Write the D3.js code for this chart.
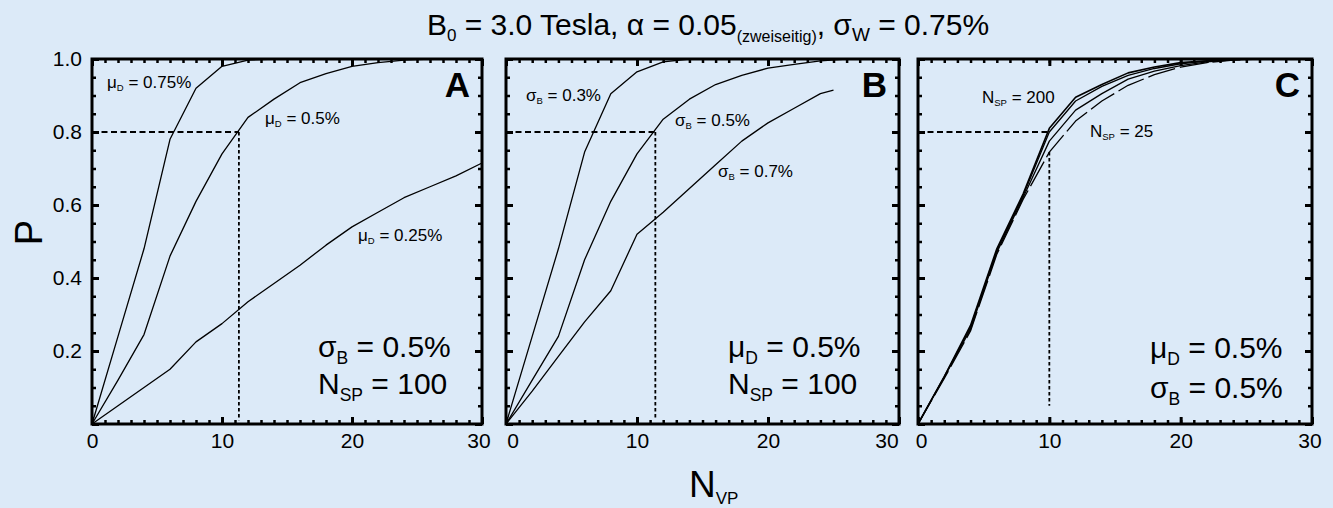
<!DOCTYPE html>
<html>
<head>
<meta charset="utf-8">
<script src="https://cdn.jsdelivr.net/npm/d3@7"></script>
<style>
  html, body { margin: 0; padding: 0; background: #dceaf8; }
  svg { display: block; }
  text { font-family: "Liberation Sans", Arial, sans-serif; fill: #000; }
</style>
</head>
<body>
<svg id="chart" width="1333" height="508"></svg>
<script>
// N_VP sample points of the simulated power curves
const nvpSteps   = [0, 2, 4, 6, 8, 10, 12, 14, 16, 18, 20, 22, 24, 26, 28, 30];
const nvpSigma07 = [0, 2, 4, 6, 8, 10, 12, 14, 16, 18, 20, 22, 24, 25];
const nvpSubj    = [0, 2, 4, 6, 8, 10, 12, 14, 16, 18, 20, 22, 24, 26];

// Panel A: sigma_B = 0.5 %, N_SP = 100, effect size mu_D varied
const powerMu075 = [0, 0.24, 0.48, 0.78, 0.92, 0.98, 0.997, 1, 1, 1, 1, 1, 1, 1, 1, 1];
const powerMu050 = [0, 0.12, 0.245, 0.46, 0.61, 0.74, 0.84, 0.89, 0.935, 0.96, 0.98, 0.99, 0.997, 1, 1, 1];
const powerMu025 = [0, 0.05, 0.10, 0.15, 0.225, 0.275, 0.335, 0.385, 0.435, 0.49, 0.54, 0.58, 0.62, 0.65, 0.68, 0.715];

// Panel B: mu_D = 0.5 %, N_SP = 100, between-subject sigma_B varied
const powerSigma03 = [0, 0.24, 0.48, 0.745, 0.905, 0.965, 0.992, 1, 1, 1, 1, 1, 1, 1, 1, 1];
const powerSigma05 = [0, 0.12, 0.24, 0.45, 0.61, 0.74, 0.835, 0.89, 0.93, 0.955, 0.975, 0.985, 0.995, 1, 1, 1];
const powerSigma07 = [0, 0.09, 0.185, 0.28, 0.365, 0.52, 0.58, 0.645, 0.71, 0.775, 0.825, 0.865, 0.905, 0.915];

// Panel C: mu_D = 0.5 %, sigma_B = 0.5 %, number of scan points N_SP varied
const powerN200 = [0, 0.13, 0.27, 0.48, 0.63, 0.81, 0.895, 0.93, 0.962, 0.978, 0.99, 0.995, 0.999, 1];
const powerN100 = [0, 0.13, 0.265, 0.475, 0.625, 0.80, 0.885, 0.925, 0.955, 0.974, 0.987, 0.994, 0.999, 1];
const powerN50  = [0, 0.128, 0.26, 0.47, 0.62, 0.775, 0.86, 0.905, 0.945, 0.967, 0.982, 0.992, 0.998, 1];
const powerN25  = [0, 0.125, 0.255, 0.465, 0.615, 0.745, 0.83, 0.885, 0.928, 0.957, 0.978, 0.99, 0.997, 1];

// 80 % power guide lines: required N_VP and vertical extent per panel
const targetPower = 0.8;
const guideN      = [11.3, 11.4, 10];
const guideTop    = [0.8, 0.8, 0.745];
const guideBottom = [0.01, 0.015, 0.05];

// Axis ticks
const xTicksMajor = [0, 10, 20, 30];
const yTicksMajor = [0, 0.2, 0.4, 0.6, 0.8, 1.0];
const yTickLabels = ["", "0.2", "0.4", "0.6", "0.8", "1.0"];
const panelLetters = ["A", "B", "C"];

const svg = d3.select("#chart");

const yTopPx = 59, yBotPx = 424;
const panelLayout = [
  { x0: 92,  x1: 482,  shift: { 30: -3.5 } },
  { x0: 506, x1: 899,  shift: { 0: 6.5, 30: -12.5 } },
  { x0: 918, x1: 1312, shift: { 0: 3, 30: -2.5 } }
];

function drawPanel(i, seriesList, labels, notes) {
  const L = panelLayout[i];
  const x = d3.scaleLinear().domain([0, 30]).range([L.x0, L.x1]);
  const y = d3.scaleLinear().domain([0, 1]).range([yBotPx, yTopPx]);
  const g = svg.append("g");

  // ticks on all four sides, pointing inward
  const axes = [
    [d3.axisBottom, x, `translate(0,${y(0)})`, x.ticks(30), xTicksMajor],
    [d3.axisTop,    x, `translate(0,${y(1)})`, x.ticks(30), xTicksMajor],
    [d3.axisLeft,   y, `translate(${x(0)},0)`, y.ticks(20), yTicksMajor],
    [d3.axisRight,  y, `translate(${x(30)},0)`, y.ticks(20), yTicksMajor]
  ];
  axes.forEach(([fn, sc, tr, minor, major]) => {
    const gm = g.append("g").attr("transform", tr)
      .call(fn(sc).tickValues(minor).tickSize(-4).tickFormat(""));
    gm.select(".domain").remove();
    gm.selectAll(".tick line").attr("stroke", "#000").attr("stroke-width", 2.5);
    const gM = g.append("g").attr("transform", tr)
      .call(fn(sc).tickValues(major).tickSize(-7).tickFormat(""));
    gM.select(".domain").remove();
    gM.selectAll(".tick line").attr("stroke", "#000").attr("stroke-width", 3);
  });

  // bottom tick labels
  const gx = g.append("g").attr("transform", `translate(0,${y(0)})`)
    .call(d3.axisBottom(x).tickValues(xTicksMajor).tickSize(0).tickPadding(9).tickFormat(d3.format("d")));
  gx.select(".domain").remove();
  gx.selectAll(".tick text")
    .attr("font-size", 21).attr("font-family", null).attr("fill", "#000")
    .attr("dx", d => L.shift[d] || 0);

  // left tick labels only on first panel
  if (i === 0) {
    const gy = g.append("g").attr("transform", `translate(${x(0)},0)`)
      .call(d3.axisLeft(y).tickValues(yTicksMajor).tickSize(0).tickPadding(10)
        .tickFormat((d, k) => yTickLabels[k]));
    gy.select(".domain").remove();
    gy.selectAll(".tick text").attr("font-size", 21).attr("font-family", null).attr("fill", "#000");
  }

  // 80 % guide lines
  g.append("line")
    .attr("x1", x(0)).attr("x2", x(guideN[i]))
    .attr("y1", y(targetPower)).attr("y2", y(targetPower))
    .attr("stroke", "#000").attr("stroke-width", 2).attr("stroke-dasharray", "6,3.5");
  g.append("line")
    .attr("x1", x(guideN[i])).attr("x2", x(guideN[i]))
    .attr("y1", y(guideTop[i])).attr("y2", y(guideBottom[i]))
    .attr("stroke", "#000").attr("stroke-width", 1.8).attr("stroke-dasharray", "3.5,2.5");

  // power curves
  const line = d3.line().x(d => x(d[0])).y(d => y(d[1]));
  seriesList.forEach(s => {
    g.append("path")
      .datum(d3.zip(s.n, s.p))
      .attr("d", line)
      .attr("fill", "none")
      .attr("stroke", "#000")
      .attr("stroke-width", s.w || 1.3)
      .attr("stroke-linejoin", "round")
      .attr("stroke-dasharray", s.dash || null);
  });

  // frame
  g.append("rect")
    .attr("x", x(0)).attr("y", y(1))
    .attr("width", x(30) - x(0)).attr("height", y(0) - y(1))
    .attr("fill", "none").attr("stroke", "#000").attr("stroke-width", 3);

  // curve labels
  labels.forEach(l => {
    const t = g.append("text").attr("x", l.x).attr("y", l.y).attr("font-size", 17);
    t.append("tspan").text(l.sym);
    t.append("tspan").attr("font-size", 9.5).attr("dy", 3).text(l.sub);
    t.append("tspan").attr("dy", -3).text(l.rest);
  });

  // panel letter
  g.append("text").attr("x", L.x1 - 12).attr("y", 97)
    .attr("text-anchor", "end").attr("font-size", 35).attr("font-weight", "bold")
    .text(panelLetters[i]);

  // fixed-parameter notes
  notes.forEach(nt => {
    const t = g.append("text").attr("x", nt.x).attr("y", nt.y).attr("font-size", 30);
    t.append("tspan").text(nt.sym);
    t.append("tspan").attr("font-size", 17.5).attr("dy", 7).text(nt.sub);
    t.append("tspan").attr("dy", -7).text(nt.rest);
  });
}

drawPanel(0,
  [ { n: nvpSteps, p: powerMu075 }, { n: nvpSteps, p: powerMu050 }, { n: nvpSteps, p: powerMu025 } ],
  [ { x: 107, y: 87.5, sym: "\u03bc", sub: "D", rest: " = 0.75%" },
    { x: 265, y: 124, sym: "\u03bc", sub: "D", rest: " = 0.5%" },
    { x: 358, y: 240.5, sym: "\u03bc", sub: "D", rest: " = 0.25%" } ],
  [ { x: 318, y: 357, sym: "\u03c3", sub: "B", rest: " = 0.5%" },
    { x: 318, y: 394, sym: "N", sub: "SP", rest: " = 100" } ]);

drawPanel(1,
  [ { n: nvpSteps, p: powerSigma03 }, { n: nvpSteps, p: powerSigma05 }, { n: nvpSigma07, p: powerSigma07 } ],
  [ { x: 526, y: 100.5, sym: "\u03c3", sub: "B", rest: " = 0.3%" },
    { x: 675, y: 125.5, sym: "\u03c3", sub: "B", rest: " = 0.5%" },
    { x: 718, y: 177, sym: "\u03c3", sub: "B", rest: " = 0.7%" } ],
  [ { x: 728, y: 357, sym: "\u03bc", sub: "D", rest: " = 0.5%" },
    { x: 728, y: 393.5, sym: "N", sub: "SP", rest: " = 100" } ]);

drawPanel(2,
  [ { n: nvpSubj, p: powerN25, dash: "28,5" }, { n: nvpSubj, p: powerN50 },
    { n: nvpSubj, p: powerN100 }, { n: nvpSubj, p: powerN200, w: 1.6 } ],
  [ { x: 982, y: 103, sym: "N", sub: "SP", rest: " = 200" },
    { x: 1090, y: 137, sym: "N", sub: "SP", rest: " = 25" } ],
  [ { x: 1150, y: 357.5, sym: "\u03bc", sub: "D", rest: " = 0.5%" },
    { x: 1150, y: 397.5, sym: "\u03c3", sub: "B", rest: " = 0.5%" } ]);

// title
const title = svg.append("text").attr("x", 708).attr("y", 35)
  .attr("text-anchor", "middle").attr("font-size", 30);
title.append("tspan").text("B");
title.append("tspan").attr("font-size", 17).attr("dy", 6).text("0");
title.append("tspan").attr("dy", -6).text(" = 3.0 Tesla, \u03b1 = 0.05");
title.append("tspan").attr("font-size", 16).attr("dy", 7).text("(zweiseitig)");
title.append("tspan").attr("dy", -7).text(", \u03c3");
title.append("tspan").attr("font-size", 19).attr("dy", 6).text("W");
title.append("tspan").attr("dy", -6).text(" = 0.75%");

// axis titles
svg.append("text").attr("transform", "translate(42,232.5) rotate(-90)")
  .attr("text-anchor", "middle").attr("font-size", 38).text("P");
const xt = svg.append("text").attr("x", 689).attr("y", 497).attr("font-size", 37);
xt.append("tspan").text("N");
xt.append("tspan").attr("font-size", 17).attr("dy", 7).text("VP");
</script>
</body>
</html>
